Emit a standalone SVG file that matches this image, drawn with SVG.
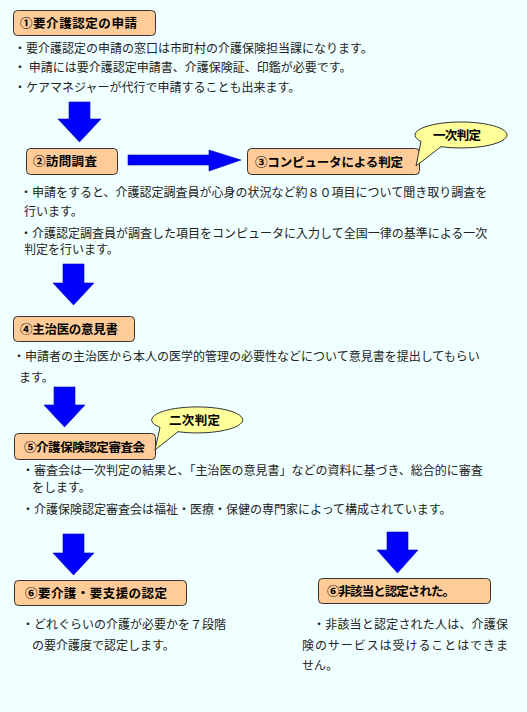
<svg xmlns="http://www.w3.org/2000/svg" width="527" height="712" viewBox="0 0 527 712">
<style>
.bg{fill:#F0FFFF}
.box{fill:#FFCC99;stroke:#333;stroke-width:1}
.ttl{font-family:"Noto Sans CJK JP","Noto Sans",sans-serif;font-size:12.5px;font-weight:bold;fill:#000}
.txt{font-family:"Noto Sans CJK JP","Noto Sans",sans-serif;font-size:12px;fill:#222}
.arr{fill:#0000FF;stroke:#0000B0;stroke-width:0.6}
.call{fill:#FFFF99;stroke:#333;stroke-width:1}
.ctx{font-family:"Noto Sans CJK JP","Noto Sans",sans-serif;font-size:12.5px;font-weight:bold;fill:#000}
</style>
<rect class="bg" x="0" y="0" width="527" height="712"/>

<g id="connectors">
<polygon class="arr" points="69,102 90,102 90,119 101,119 79.5,142 58,119 69,119"/>
<polygon class="arr" points="128,155 209,155 209,150 241,160 209,171 209,165 128,165"/>
<polygon class="arr" points="63,264 84,264 84,283 94,283 73.5,305 53,283 63,283"/>
<polygon class="arr" points="54,387 75,387 75,405 85,405 64.5,427 44,405 54,405"/>
<polygon class="arr" points="63,534 84,534 84,553 94,553 73.5,575 53,553 63,553"/>
<polygon class="arr" points="387,532 408,532 408,550 418,550 397.5,573 377,550 387,550"/>
</g>

<g id="node1">
<rect class="box" x="13.5" y="10.5" width="142" height="25" rx="4"/>
<text class="ttl" x="20" y="27.5" textLength="117">①要介護認定の申請</text>
</g>
<g id="text1">
<text class="txt" x="14" y="52.5">・要介護認定の申請の窓口は市町村の介護保険担当課になります。</text>
<text class="txt" x="14" y="72">・ 申請には要介護認定申請書、介護保険証、印鑑が必要です。</text>
<text class="txt" x="14" y="92">・ケアマネジャーが代行で申請することも出来ます。</text>
</g>

<g id="node2">
<rect class="box" x="26.5" y="148.5" width="91" height="26" rx="4"/>
<text class="ttl" x="33" y="166" textLength="64">②訪問調査</text>
</g>

<g id="node3">
<rect class="box" x="247.5" y="148.5" width="172" height="26" rx="4"/>
<text class="ttl" x="255" y="166.5" textLength="148">③コンピュータによる判定</text>
</g>
<g id="callout1">
<path class="call" d="M421,141.4 L416,166 L441,146.7 A46 13 0 1 0 421,141.4 Z"/>
<text class="ctx" x="433" y="139.5" textLength="48">一次判定</text>
</g>
<g id="text2">
<text class="txt" x="20" y="196.5">・申請をすると、介護認定調査員が心身の状況など約８０項目について聞き取り調査を</text>
<text class="txt" x="24" y="215.5">行います。</text>
<text class="txt" x="20" y="237.5">・介護認定調査員が調査した項目をコンピュータに入力して全国一律の基準による一次</text>
<text class="txt" x="24" y="253.5">判定を行います。</text>
</g>

<g id="node4">
<rect class="box" x="13.5" y="316.5" width="121" height="25" rx="4"/>
<text class="ttl" x="20" y="334" textLength="98">④主治医の意見書</text>
</g>
<g id="text3">
<text class="txt" x="13" y="360.5">・申請者の主治医から本人の医学的管理の必要性などについて意見書を提出してもらい</text>
<text class="txt" x="19" y="381.5">ます。</text>
</g>

<g id="node5">
<rect class="box" x="14.5" y="433.5" width="141" height="26" rx="4"/>
<text class="ttl" x="24" y="451.5" textLength="121">⑤介護保険認定審査会</text>
</g>
<g id="callout2">
<path class="call" d="M160,427.4 L155,450 L178,431.7 A45.5 13 0 1 0 160,427.4 Z"/>
<text class="ctx" x="169" y="424.5" textLength="51">二次判定</text>
</g>
<g id="text4">
<text class="txt" x="22" y="474.5">・審査会は一次判定の結果と、「主治医の意見書」などの資料に基づき、総合的に審査</text>
<text class="txt" x="32" y="491.5">をします。</text>
<text class="txt" x="22" y="513.5">・介護保険認定審査会は福祉・医療・保健の専門家によって構成されています。</text>
</g>

<g id="node6">
<rect class="box" x="14.5" y="580.5" width="172" height="25" rx="4"/>
<text class="ttl" x="25" y="598" textLength="142">⑥要介護・要支援の認定</text>
</g>
<g id="text5">
<text class="txt" x="22" y="628.5">・どれぐらいの介護が必要かを７段階</text>
<text class="txt" x="32" y="649.5">の要介護度で認定します。</text>
</g>

<g id="node7">
<rect class="box" x="318.5" y="578.5" width="172" height="25" rx="4"/>
<text class="ttl" x="327" y="596" textLength="128">⑥非該当と認定された。</text>
</g>
<g id="text6">
<text class="txt" x="313" y="628.5" textLength="195">・非該当と認定された人は、介護保</text>
<text class="txt" x="302" y="649.5" textLength="206">険のサービスは受けることはできま</text>
<text class="txt" x="302" y="669.5">せん。</text>
</g>
</svg>
